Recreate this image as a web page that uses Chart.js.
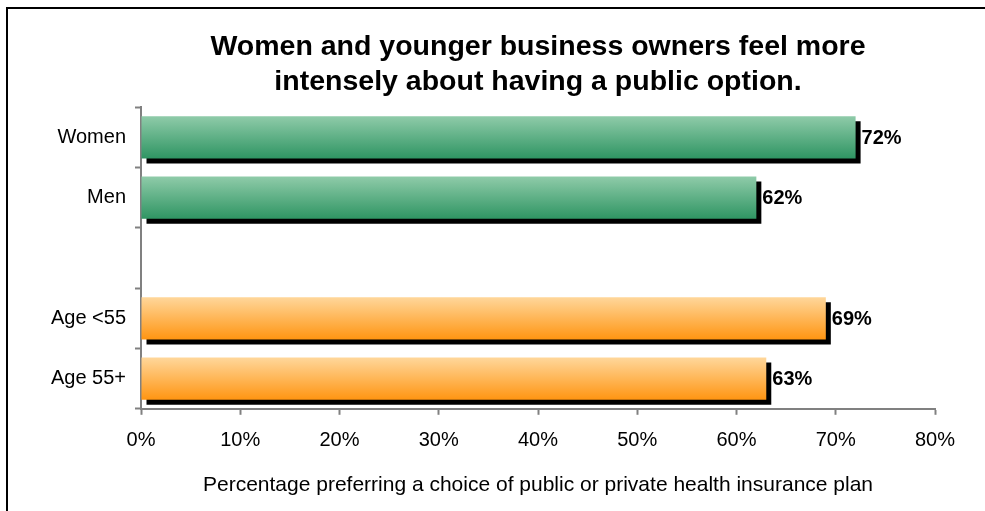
<!DOCTYPE html>
<html>
<head>
<meta charset="utf-8">
<script src="https://cdn.jsdelivr.net/npm/chart.js@4.4.1/dist/chart.umd.min.js"></script>
<style>
  html, body { margin: 0; padding: 0; background: #fff; }
  #wrap { position: relative; width: 985px; height: 511px; overflow: hidden; }
  #frame { position: absolute; left: 6px; top: 7px; width: 1000px; height: 520px;
           border-left: 2px solid #000; border-top: 2px solid #000; pointer-events: none; }
  canvas { position: absolute; left: 0; top: 0; }
</style>
</head>
<body>
<div id="wrap">
  <canvas id="grafico" width="985" height="511"></canvas>
  <div id="frame"></div>
</div>
<script>
// datos
const categorias = ["Women", "Men", "", "Age <55", "Age 55+"];
const valores = [72, 62, null, 69, 63];
const grupos = ["green", "green", null, "orange", "orange"];
const ticksX = [0, 10, 20, 30, 40, 50, 60, 70, 80];

const fuente = "Arial, 'Liberation Sans', sans-serif";
const gris = "#808080";

const degradados = {
  green: ["#8fcba9", "#2f9563"],
  orange: ["#ffd79b", "#ff9512"]
};

// relleno con degradado vertical por barra
function rellenoBarra(ctx) {
  const chart = ctx.chart;
  const y = chart.scales.y;
  const g = grupos[ctx.dataIndex];
  if (!g) return "#888";
  const colores = degradados[g];
  if (!y) return colores[1];
  const centro = y.getPixelForValue(ctx.dataIndex);
  const alto = (y.height / categorias.length) * 0.7;
  if (!isFinite(centro) || !isFinite(alto) || alto <= 0) return colores[1];
  const grad = chart.ctx.createLinearGradient(0, centro - alto / 2, 0, centro + alto / 2);
  grad.addColorStop(0, colores[0]);
  grad.addColorStop(1, colores[1]);
  return grad;
}

// sombra negra desplazada
const sombra = {
  id: "sombra",
  beforeDatasetDraw(chart) {
    const c = chart.ctx;
    c.save();
    c.shadowColor = "#000";
    c.shadowBlur = 0;
    c.shadowOffsetX = 5;
    c.shadowOffsetY = 5;
  },
  afterDatasetDraw(chart) {
    chart.ctx.restore();
  }
};

// etiquetas de valor
const etiquetas = {
  id: "etiquetas",
  afterDatasetsDraw(chart) {
    const c = chart.ctx;
    c.save();
    c.font = "bold 20px " + fuente;
    c.fillStyle = "#000";
    c.textAlign = "left";
    c.textBaseline = "middle";
    chart.getDatasetMeta(0).data.forEach((el, i) => {
      if (valores[i] == null) return;
      c.fillText(valores[i] + "%", el.x + 6, el.y + 1);
    });
    c.restore();
  }
};

new Chart(document.getElementById("grafico"), {
  type: "bar",
  data: {
    labels: categorias,
    datasets: [{
      data: valores,
      backgroundColor: rellenoBarra,
      borderWidth: 0,
      barPercentage: 0.7,
      categoryPercentage: 1
    }]
  },
  options: {
    indexAxis: "y",
    responsive: false,
    animation: false,
    events: [],
    layout: { padding: { top: 14, right: 50, bottom: 13, left: 0 } },
    plugins: {
      legend: { display: false },
      tooltip: { enabled: false },
      title: {
        display: true,
        fullSize: false,
        text: ["Women and younger business owners feel more", "intensely about having a public option."],
        font: { family: fuente, size: 28.5, weight: "bold", lineHeight: 1.23 },
        color: "#000",
        padding: { top: 16, bottom: 7 }
      }
    },
    scales: {
      x: {
        min: 0,
        max: 80,
        afterBuildTicks: s => { s.ticks = ticksX.map(v => ({ value: v })); },
        ticks: {
          callback: v => v + "%",
          font: { family: fuente, size: 20 },
          color: "#000",
          padding: 14,
          maxRotation: 0
        },
        grid: { drawOnChartArea: false, color: gris, tickLength: 6, tickWidth: 2 },
        border: { display: true, color: gris, width: 2 },
        title: {
          display: true,
          text: "Percentage preferring a choice of public or private health insurance plan",
          font: { family: fuente, size: 21 },
          color: "#000",
          padding: { top: 6, bottom: 0 }
        }
      },
      y: {
        offset: true,
        afterFit: s => { s.width = 141; },
        ticks: {
          font: { family: fuente, size: 20 },
          color: "#000",
          padding: 9
        },
        grid: { offset: true, drawOnChartArea: false, color: gris, tickLength: 6, tickWidth: 2 },
        border: { display: true, color: gris, width: 2 }
      }
    }
  },
  plugins: [sombra, etiquetas]
});
</script>
</body>
</html>
